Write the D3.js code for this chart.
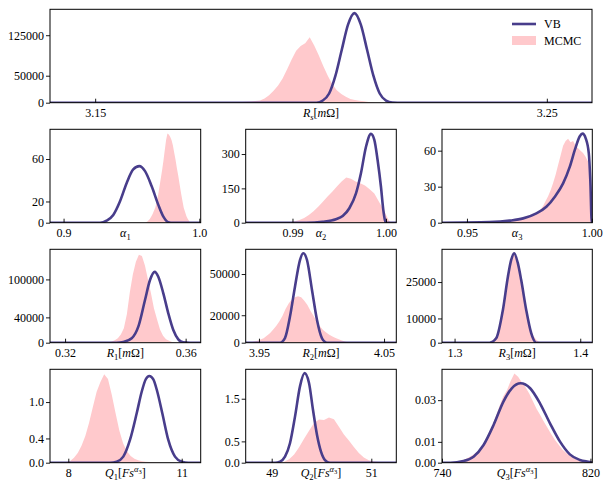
<!DOCTYPE html>
<html>
<head>
<meta charset="utf-8">
<script src="https://cdnjs.cloudflare.com/ajax/libs/d3/7.8.5/d3.min.js"></script>
<style>
body { margin: 0; background: #fff; }
text { font-family: "Liberation Serif", "DejaVu Serif", serif; }
</style>
</head>
<body>
<script>
var W = 613, H = 490;
var VB_COLOUR = '#483d8b';
var MCMC_COLOUR = '#ffc9cc';

// panel order: Rs, a1, a2, a3, R1, R2, R3, Q1, Q2, Q3
var xLims = [[3.14, 3.26], [0.89, 1.001], [0.985, 1.0011], [0.94, 1.0002], [0.315, 0.365],
  [3.9394, 4.0598], [1.29, 1.4096], [7.516, 11.503], [48.478, 51.502], [740, 821]];
var yMax = [173000, 88, 408, 77.8, 147600, 68000, 38500, 1.54, 2.19, 0.0448];

var xTicks = [[3.15, 3.25], [0.9, 1.0], [0.99, 1.0], [0.95, 1.0], [0.32, 0.36],
  [3.95, 4.05], [1.3, 1.4], [8, 11], [49, 51], [740, 820]];
var xTickLabels = [['3.15', '3.25'], ['0.9', '1.0'], ['0.99', '1.00'], ['0.95', '1.00'], ['0.32', '0.36'],
  ['3.95', '4.05'], ['1.3', '1.4'], ['8', '11'], ['49', '51'], ['740', '820']];
var yTicks = [[0, 50000, 125000], [0, 20, 60], [0, 150, 300], [0, 30, 60], [0, 40000, 100000],
  [0, 20000, 50000], [0, 10000, 25000], [0, 0.4, 1.0], [0, 0.5, 1.5], [0, 0.01, 0.03]];
var yTickLabels = [['0', '50000', '125000'], ['0', '20', '60'], ['0', '150', '300'], ['0', '30', '60'],
  ['0', '40000', '100000'], ['0', '20000', '50000'], ['0', '10000', '25000'],
  ['0.0', '0.4', '1.0'], ['0.0', '0.5', '1.5'], ['0.00', '0.01', '0.03']];

// axis labels, split in parts: [text, style]
var xLabels = [
  [['R', 'i'], ['s', 'isub'], ['['], ['m', 'i'], ['Ω]']],
  [['α', 'i'], ['1', 'sub']],
  [['α', 'i'], ['2', 'sub']],
  [['α', 'i'], ['3', 'sub']],
  [['R', 'i'], ['1', 'sub'], ['['], ['m', 'i'], ['Ω]']],
  [['R', 'i'], ['2', 'sub'], ['['], ['m', 'i'], ['Ω]']],
  [['R', 'i'], ['3', 'sub'], ['['], ['m', 'i'], ['Ω]']],
  [['Q', 'i'], ['1', 'sub'], ['['], ['Fs', 'i'], ['α', 'isup'], ['3', 'supsub'], [']']],
  [['Q', 'i'], ['2', 'sub'], ['['], ['Fs', 'i'], ['α', 'isup'], ['3', 'supsub'], [']']],
  [['Q', 'i'], ['3', 'sub'], ['['], ['Fs', 'i'], ['α', 'isup'], ['3', 'supsub'], [']']]
];

// MCMC histograms: first bin edge, bin width, heights
var histStart = [3.176, 0.960, 0.9895, 0.960, 0.333, 3.9425, 1.328, 7.8, 49.1, 746];
var histBin = [0.001, 0.001, 0.0005, 0.001, 0.001, 0.0025, 0.002, 0.1, 0.1, 2];

var mcmcRs = [300, 400, 500, 600, 800, 1000, 1300, 1800, 2400, 3200, 4000, 8000, 14000, 22000, 32000,
  45000, 62000, 80000, 96000, 105000, 110000, 121000, 106000, 88000, 68000, 50000, 34000, 23000,
  16000, 11000, 7000, 5000, 3500, 2500, 1500, 700];
var mcmcA1 = [0.5, 1, 2, 3.5, 5.5, 8, 11, 14, 19, 25, 33, 41, 49, 58, 68, 78, 84, 83, 81, 78, 73, 66,
  59, 51, 44, 36, 28, 21, 14, 10, 6, 3.5, 1.5];
var mcmcA2 = [2, 6, 12, 20, 34, 50, 70, 92, 114, 135, 158, 180, 197, 192, 180, 172, 163, 146, 128, 92, 55, 14];
var mcmcA3 = [0.3, 0.4, 0.5, 0.6, 0.8, 1.0, 1.2, 1.5, 1.8, 2.2, 2.6, 3.1, 3.7, 4.4, 5.2, 5.9, 6.5,
  7, 9, 11, 14, 18, 22, 27, 33, 40, 48, 56, 64, 68, 70, 67, 68, 64, 62, 60, 58, 55, 51, 38];
var mcmcR1 = [300, 800, 2000, 4000, 7000, 13000, 23000, 45000, 80000, 108000, 128000, 139000, 137000,
  122000, 100000, 78000, 54000, 37000, 21000, 11000, 5500, 3000, 1200, 400];
var mcmcR2 = [300, 800, 1400, 2300, 3300, 5000, 6800, 9500, 12200, 15500, 19500, 24500, 28500, 31500,
  33000, 33800, 33000, 30500, 27500, 23000, 19500, 15000, 12000, 9200, 7500, 5800, 4500, 3400, 2500,
  1600, 900, 400];
var mcmcR3 = [500, 1200, 2600, 5500, 10000, 16000, 23000, 30000, 34500, 37000, 35500, 31000, 25500,
  19500, 13500, 8500, 5000, 2600, 1200, 400];
var mcmcQ1 = [0.003, 0.01, 0.03, 0.08, 0.16, 0.28, 0.44, 0.66, 0.92, 1.17, 1.33, 1.46, 1.38, 1.12, 0.82,
  0.53, 0.32, 0.19, 0.11, 0.065, 0.04, 0.025, 0.016, 0.01, 0.007, 0.004, 0.002];
var mcmcQ2 = [0.005, 0.025, 0.08, 0.19, 0.36, 0.56, 0.75, 0.93, 1.01, 1.0, 1.06, 1.02, 0.84, 0.66, 0.52,
  0.37, 0.23, 0.12, 0.06, 0.03, 0.015, 0.008, 0.003];
var mcmcQ3 = [0.0003, 0.0007, 0.0012, 0.0019, 0.0028, 0.0039, 0.0053, 0.0072, 0.0098, 0.0135, 0.0175,
  0.0222, 0.0272, 0.0318, 0.0348, 0.0392, 0.0428, 0.0412, 0.0386, 0.0362, 0.0332, 0.0295, 0.0258,
  0.0228, 0.0195, 0.0165, 0.0135, 0.0108, 0.0085, 0.0062, 0.0046, 0.0032, 0.0021, 0.0013, 0.0007, 0.0003];

// VB densities, points
var vbRs = [[3.14, 0], [3.199, 0], [3.2004, 4000], [3.2018, 17000], [3.2032, 50000], [3.2046, 98000],
  [3.2060, 145000], [3.2074, 166000], [3.2088, 145000], [3.2102, 98000], [3.2116, 50000],
  [3.2130, 17000], [3.2144, 4000], [3.2158, 500], [3.218, 0], [3.26, 0]];
var vbA1 = [[0.89, 0], [0.9268, 0], [0.9317, 1.9], [0.9366, 7.3], [0.9415, 20], [0.9465, 37.5],
  [0.9513, 50.2], [0.9558, 53.3], [0.96, 48.6], [0.9649, 34.3], [0.9698, 16.8], [0.9735, 5.7],
  [0.9771, 0.5], [0.9808, 0], [1.001, 0]];
var vbA2 = [[0.985, 0], [0.9915, 0], [0.99323, 4.4], [0.99465, 15], [0.99537, 29], [0.99608, 63],
  [0.99679, 128], [0.99732, 216], [0.99786, 332], [0.99839, 388], [0.99875, 362], [0.9991, 274],
  [0.99946, 157], [0.99971, 56], [0.99988, 12], [0.99999, 0], [1.0011, 0]];
var vbA3 = [[0.94, 0], [0.9591, 0.5], [0.9671, 1.7], [0.9725, 3.6], [0.9778, 7.8], [0.9818, 13.3],
  [0.9852, 21.7], [0.9885, 32.8], [0.9912, 46.7], [0.9932, 60.6], [0.9952, 72], [0.9963, 74.2],
  [0.9976, 70], [0.9988, 57.8], [0.9994, 35.6], [1.0, 0], [1.0002, 0]];
var vbR1 = [[0.315, 0], [0.337, 0], [0.33932, 1000], [0.34211, 6900], [0.3443, 25300], [0.34652, 67500],
  [0.34818, 99000], [0.34975, 112000], [0.35093, 104300], [0.3526, 78000], [0.35425, 46400],
  [0.35591, 20000], [0.35757, 5300], [0.35923, 500], [0.3615, 0], [0.365, 0]];
var vbR2 = [[3.9394, 0], [3.9668, 0], [3.9708, 3400], [3.9748, 19000], [3.9788, 40800], [3.9828, 60200],
  [3.98544, 65100], [3.9884, 60200], [3.9924, 38400], [3.9964, 16500], [4.0004, 3200], [4.0044, 0],
  [4.0598, 0]];
var vbR3 = [[1.29, 0], [1.32787, 0], [1.33312, 1800], [1.33846, 13500], [1.34244, 27200], [1.34506, 34100],
  [1.34745, 36800], [1.3504, 32700], [1.35303, 25800], [1.35701, 13500], [1.36099, 3900],
  [1.36497, 0], [1.4096, 0]];
var vbQ1 = [[7.516, 0], [9.103, 0], [9.28, 0.017], [9.455, 0.10], [9.632, 0.375], [9.81, 0.815],
  [9.942, 1.17], [10.05, 1.376], [10.143, 1.43], [10.25, 1.375], [10.355, 1.17], [10.487, 0.815],
  [10.646, 0.375], [10.823, 0.10], [11.0, 0.017], [11.175, 0], [11.503, 0]];
var vbQ2 = [[48.478, 0], [49.066, 0], [49.167, 0.024], [49.267, 0.14], [49.367, 0.456], [49.468, 1.08],
  [49.568, 1.79], [49.66, 2.10], [49.749, 1.87], [49.829, 1.24], [49.91, 0.65], [49.99, 0.26],
  [50.07, 0.063], [50.17, 0], [51.502, 0]];
var vbQ3 = [[740, 0], [744.5, 0], [751.6, 0.0008], [757, 0.0029], [762.4, 0.0085], [767.8, 0.0181],
  [773.1, 0.0293], [777.6, 0.0357], [782.4, 0.0381], [787.5, 0.0357], [792.8, 0.0285], [798.2, 0.0189],
  [803.6, 0.0101], [808.9, 0.004], [814.3, 0.0013], [819.7, 0.0003], [821, 0]];

var hists = [mcmcRs, mcmcA1, mcmcA2, mcmcA3, mcmcR1, mcmcR2, mcmcR3, mcmcQ1, mcmcQ2, mcmcQ3];
var vbs = [vbRs, vbA1, vbA2, vbA3, vbR1, vbR2, vbR3, vbQ1, vbQ2, vbQ3];

var cols = [[50, 200.7], [245.7, 396.3], [442, 592.3]];
var rowTop = [9.3, 129.3, 249.3, 369.3];
var PH = 93.4;
var FS = 12;

var partStyle = {
  '': [0, FS, 'normal'], i: [0, FS, 'italic'],
  sub: [3, 8.5, 'normal'], isub: [3, 8.5, 'italic'],
  isup: [-5, 8.5, 'italic'], supsub: [-2.5, 6.5, 'normal']
};

var svg = d3.select('body').append('svg')
  .attr('width', W).attr('height', H);

function box(i) {
  if (i == 0) return { l: 50, r: 592, t: rowTop[0] };
  var c = cols[(i - 1) % 3];
  return { l: c[0], r: c[1], t: rowTop[1 + Math.floor((i - 1) / 3)] };
}

for (var i = 0; i < 10; i++) {
  var b = box(i);
  var w = b.r - b.l;
  var g = svg.append('g').attr('transform', 'translate(' + b.l + ',' + b.t + ')');

  var x = d3.scaleLinear().domain(xLims[i]).range([0, w]);
  var y = d3.scaleLinear().domain([0, yMax[i]]).range([PH, 0]);

  g.append('clipPath').attr('id', 'clip' + i)
    .append('rect').attr('width', w).attr('height', PH);
  var plot = g.append('g').attr('clip-path', 'url(#clip' + i + ')');

  // outline through bin centres, closed at the outer bin edges
  var n = hists[i].length;
  var pts = [{ x: histStart[i], y: 0 }];
  hists[i].forEach(function(v, k) {
    pts.push({ x: histStart[i] + (k + 0.5) * histBin[i], y: v });
  });
  pts.push({ x: histStart[i] + n * histBin[i], y: 0 });

  plot.append('path')
    .datum(pts)
    .attr('fill', MCMC_COLOUR)
    .attr('d', d3.area()
      .x(function(d) { return x(d.x); })
      .y0(y(0))
      .y1(function(d) { return y(d.y); }));

  plot.append('path')
    .datum(vbs[i])
    .attr('fill', 'none')
    .attr('stroke', VB_COLOUR)
    .attr('stroke-width', 2.6)
    .attr('stroke-linejoin', 'round')
    .attr('d', d3.line()
      .x(function(d) { return x(d[0]); })
      .y(function(d) { return y(d[1]); })
      .curve(d3.curveMonotoneX));

  var labs = yTickLabels[i];
  var ya = g.append('g')
    .call(d3.axisLeft(y).tickValues(yTicks[i])
      .tickFormat(function(d, k) { return labs[k]; })
      .tickSize(4).tickPadding(2));
  var xl = xTickLabels[i];
  var xa = g.append('g').attr('transform', 'translate(0,' + PH + ')')
    .call(d3.axisBottom(x).tickValues(xTicks[i])
      .tickFormat(function(d, k) { return xl[k]; })
      .tickSize(-4).tickPadding(5.5));

  [ya, xa].forEach(function(a) {
    a.select('.domain').remove();
    a.selectAll('line').attr('stroke', '#000').attr('stroke-width', 0.9);
    a.selectAll('text').attr('fill', '#000')
      .style('font-family', '"Liberation Serif", "DejaVu Serif", serif')
      .style('font-size', FS + 'px');
  });

  g.append('rect')
    .attr('width', w).attr('height', PH)
    .attr('fill', 'none').attr('stroke', '#000').attr('stroke-width', 1);

  var t = g.append('text')
    .attr('x', w / 2).attr('y', PH + 14)
    .attr('text-anchor', 'middle')
    .style('font-size', FS + 'px');
  var cur = 0;
  xLabels[i].forEach(function(p) {
    var st = partStyle[p[1] || ''];
    t.append('tspan')
      .attr('dy', st[0] - cur)
      .style('font-size', st[1] + 'px')
      .style('font-style', st[2])
      .text(p[0]);
    cur = st[0];
  });
}

// legend in the top panel
var lg = svg.append('g').attr('transform', 'translate(512,' + rowTop[0] + ')');
lg.append('line')
  .attr('x1', 0).attr('x2', 24).attr('y1', 14.7).attr('y2', 14.7)
  .attr('stroke', VB_COLOUR).attr('stroke-width', 2.6);
lg.append('rect')
  .attr('x', 0).attr('y', 26.7).attr('width', 24).attr('height', 9)
  .attr('fill', MCMC_COLOUR);
lg.append('text').attr('x', 32).attr('y', 18.8).style('font-size', FS + 'px').text('VB');
lg.append('text').attr('x', 32).attr('y', 35.3).style('font-size', FS + 'px').text('MCMC');
</script>
</body>
</html>
